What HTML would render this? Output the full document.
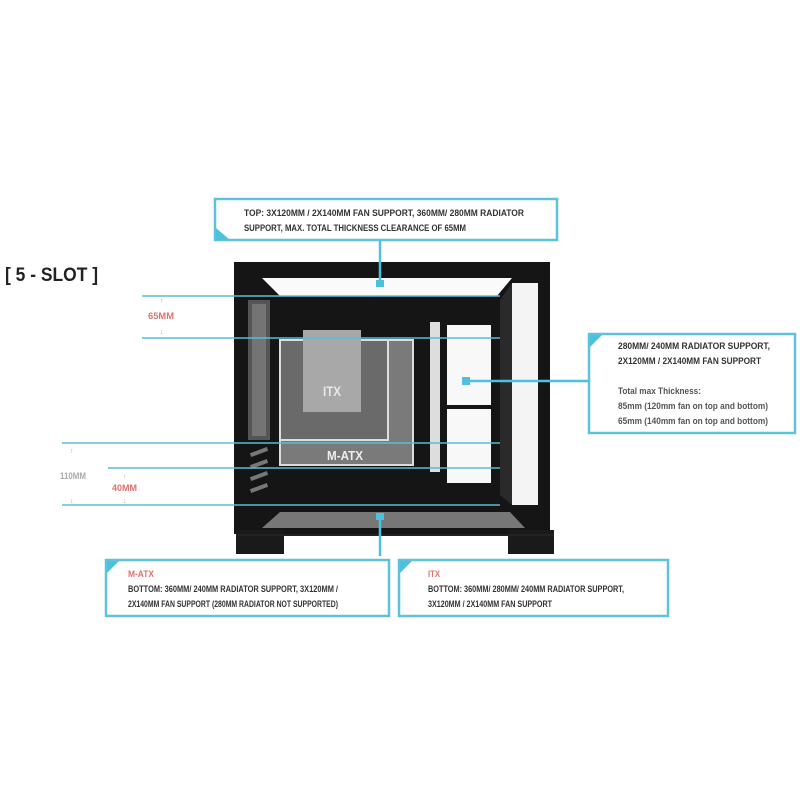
<!DOCTYPE html>
<html><head><style>
html,body{margin:0;padding:0;background:#fff;width:800px;height:800px;overflow:hidden}
svg{display:block}
text{font-family:"Liberation Sans",sans-serif;font-weight:bold}
</style></head><body>
<svg width="800" height="800" viewBox="0 0 800 800">
<!-- case body -->
<rect x="234" y="262" width="316" height="272" fill="#151515"/>
<!-- feet -->
<rect x="236" y="530" width="48" height="24" fill="#1a1a1a"/>
<rect x="508" y="530" width="46" height="24" fill="#1a1a1a"/>
<rect x="236" y="534" width="318" height="2" fill="#222"/>
<!-- right front glass opening -->
<rect x="512" y="283" width="26" height="222" fill="#f4f4f4"/>
<polygon points="500,300 512,283 512,505 500,495" fill="#2a2a2a"/>
<!-- top window -->
<polygon points="262,278 512,278 497,296 280,296" fill="#fafafa"/>
<!-- left panel mesh -->
<rect x="248" y="300" width="22" height="140" fill="#555"/>
<rect x="252" y="304" width="14" height="132" fill="#888" opacity=".6"/>
<g fill="#777">
<rect x="250" y="450" width="18" height="4" transform="rotate(-20 259 452)"/>
<rect x="250" y="462" width="18" height="4" transform="rotate(-20 259 464)"/>
<rect x="250" y="474" width="18" height="4" transform="rotate(-20 259 476)"/>
<rect x="250" y="486" width="18" height="4" transform="rotate(-20 259 488)"/>
</g>
<!-- motherboard -->
<rect x="280" y="340" width="133" height="125" fill="#7a7a7a" stroke="#ddd" stroke-width="2"/>
<rect x="280" y="340" width="108" height="100" fill="#6a6a6a" stroke="#ddd" stroke-width="2"/>
<rect x="303" y="330" width="58" height="82" fill="#a8a8a8"/>
<text x="332" y="396" font-size="14" fill="#e8e8e8" text-anchor="middle" textLength="18" lengthAdjust="spacingAndGlyphs">ITX</text>
<text x="345" y="460" font-size="13" fill="#eee" text-anchor="middle" textLength="36" lengthAdjust="spacingAndGlyphs">M-ATX</text>
<!-- right compartment -->
<rect x="430" y="322" width="10" height="150" fill="#ddd"/>
<rect x="447" y="325" width="44" height="80" fill="#f8f8f8"/>
<rect x="447" y="409" width="44" height="74" fill="#f8f8f8"/>
<!-- bottom mesh -->
<polygon points="280,512 510,512 525,528 262,528" fill="#777"/>
<!-- blue measurement lines -->
<g stroke="#5bbcd6" stroke-width="1.5">
<line x1="142" y1="296" x2="500" y2="296"/>
<line x1="142" y1="338" x2="500" y2="338"/>
<line x1="62" y1="443" x2="500" y2="443"/>
<line x1="108" y1="468" x2="500" y2="468"/>
<line x1="62" y1="505" x2="500" y2="505"/>
</g>
<g stroke="#4cc0dc" stroke-width="2.5">
<line x1="380" y1="240" x2="380" y2="284"/>
<line x1="380" y1="515" x2="380" y2="556"/>
<line x1="466" y1="381" x2="588" y2="381"/>
</g>
<rect x="376" y="280" width="8" height="7" fill="#4cc0dc"/>
<rect x="376" y="513" width="8" height="7" fill="#4cc0dc"/>
<rect x="462" y="377" width="8" height="8" fill="#4cc0dc"/>
<!-- labels -->
<text x="5" y="281" font-size="19" fill="#222" textLength="93" lengthAdjust="spacingAndGlyphs">[ 5 - SLOT ]</text>
<text x="148" y="319" font-size="9" fill="#e07070" textLength="26" lengthAdjust="spacingAndGlyphs">65MM</text>
<text x="160" y="303" font-size="7" fill="#aaa">↑</text>
<text x="160" y="334" font-size="7" fill="#aaa">↓</text>
<text x="60" y="479" font-size="9" fill="#aaa" textLength="26" lengthAdjust="spacingAndGlyphs">110MM</text>
<text x="112" y="491" font-size="9" fill="#e07070" textLength="25" lengthAdjust="spacingAndGlyphs">40MM</text>
<text x="70" y="453" font-size="7" fill="#aaa">↑</text>
<text x="70" y="503" font-size="7" fill="#aaa">↓</text>
<text x="123" y="479" font-size="7" fill="#aaa">↑</text>
<text x="123" y="503" font-size="7" fill="#aaa">↓</text>
<!-- boxes -->
<g fill="#fff" stroke="#5cc3dc" stroke-width="2.5">
<rect x="215" y="199" width="342" height="41"/>
<rect x="589" y="334" width="206" height="99"/>
<rect x="106" y="560" width="283" height="56"/>
<rect x="399" y="560" width="269" height="56"/>
</g>
<g fill="#4cc0dc">
<polygon points="216,240 216,228 230,240"/>
<polygon points="590,335 602,335 590,347"/>
<polygon points="107,561 119,561 107,573"/>
<polygon points="400,561 412,561 400,573"/>
</g>
<g font-size="9.5" fill="#333">
<text x="244" y="216" textLength="280" lengthAdjust="spacingAndGlyphs">TOP: 3X120MM / 2X140MM FAN SUPPORT, 360MM/ 280MM RADIATOR</text>
<text x="244" y="231" textLength="222" lengthAdjust="spacingAndGlyphs">SUPPORT, MAX. TOTAL THICKNESS CLEARANCE OF 65MM</text>
<text x="618" y="349" textLength="152" lengthAdjust="spacingAndGlyphs">280MM/ 240MM RADIATOR SUPPORT,</text>
<text x="618" y="364" textLength="143" lengthAdjust="spacingAndGlyphs">2X120MM / 2X140MM FAN SUPPORT</text>
<text x="128" y="577" fill="#e07070" textLength="26" lengthAdjust="spacingAndGlyphs">M-ATX</text>
<text x="128" y="592" textLength="210" lengthAdjust="spacingAndGlyphs">BOTTOM: 360MM/ 240MM RADIATOR SUPPORT, 3X120MM /</text>
<text x="128" y="607" textLength="210" lengthAdjust="spacingAndGlyphs">2X140MM FAN SUPPORT (280MM RADIATOR NOT SUPPORTED)</text>
<text x="428" y="577" fill="#e07070" textLength="12" lengthAdjust="spacingAndGlyphs">ITX</text>
<text x="428" y="592" textLength="196" lengthAdjust="spacingAndGlyphs">BOTTOM: 360MM/ 280MM/ 240MM RADIATOR SUPPORT,</text>
<text x="428" y="607" textLength="124" lengthAdjust="spacingAndGlyphs">3X120MM / 2X140MM FAN SUPPORT</text>
</g>
<g font-size="9" fill="#555" style="font-weight:normal">
<text x="618" y="394" textLength="83" lengthAdjust="spacingAndGlyphs">Total max Thickness:</text>
<text x="618" y="409" textLength="150" lengthAdjust="spacingAndGlyphs">85mm (120mm fan on top and bottom)</text>
<text x="618" y="424" textLength="150" lengthAdjust="spacingAndGlyphs">65mm (140mm fan on top and bottom)</text>
</g>
</svg>
</body></html>
